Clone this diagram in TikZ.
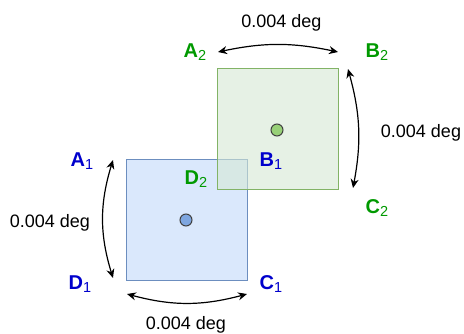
\documentclass[tikz,border=0pt]{standalone}
\usepackage{fontspec}
\setmainfont{Liberation Sans}
\usetikzlibrary{arrows.meta}

\definecolor{bluefill}{HTML}{DAE8FC}
\definecolor{blueline}{HTML}{6C8EBF}
\definecolor{bluedot}{HTML}{7EA6E0}
\definecolor{greenfill}{HTML}{D5E8D4}
\definecolor{greenline}{HTML}{82B366}
\definecolor{greendot}{HTML}{97D077}
\definecolor{labelblue}{HTML}{0000CC}
\definecolor{labelgreen}{HTML}{009900}

% corner subscript, set as the picture does it
\newcommand{\cornersub}[1]{\raisebox{-3pt}{\mdseries\fontsize{14.5}{15}\selectfont #1}}

\begin{document}
\begin{tikzpicture}[
    x=1pt, y=-1pt,
    every node/.style={font=\fontsize{18}{20}\selectfont, inner sep=0pt},
    square/.style={draw, minimum size=121pt, line width=1pt},
    dot/.style={circle, draw=black!75, minimum size=12pt, line width=1pt},
    corner/.style={font=\fontsize{20}{22}\selectfont\bfseries, anchor=base},
    deg/.style={anchor=base},
    span/.style={{Stealth[length=9pt,width=8pt]}-{Stealth[length=9pt,width=8pt]}, line width=1.2pt}
]
\useasboundingbox (0,0) rectangle (464,333);

% squares and centres
\node[square, fill=bluefill, draw=blueline] (sqone) at (186.5,219.5) {};
\node[square, fill=greenfill, fill opacity=0.6, draw=greenline] (sqtwo) at (277.5,129) {};
\node[dot, fill=bluedot] (cone) at (186,220) {};
\node[dot, fill=greendot] (ctwo) at (277,130) {};

% corner labels
\node[corner, text=labelgreen] (atwo) at (195,57) {A\cornersub{2}};
\node[corner, text=labelgreen] (btwo) at (377,57) {B\cornersub{2}};
\node[corner, text=labelgreen] (ctwol) at (377,213) {C\cornersub{2}};
\node[corner, text=labelgreen] (dtwo) at (196,184) {D\cornersub{2}};
\node[corner, text=labelblue] (aone) at (82,166) {A\cornersub{1}};
\node[corner, text=labelblue] (bone) at (271,166) {B\cornersub{1}};
\node[corner, text=labelblue] (conel) at (271,289) {C\cornersub{1}};
\node[corner, text=labelblue] (done) at (80,289) {D\cornersub{1}};

% angle labels
\node[deg] (degtop) at (281.5,27) {0.004 deg};
\node[deg] (degright) at (421,137) {0.004 deg};
\node[deg] (degleft) at (50,227) {0.004 deg};
\node[deg] (degbottom) at (186,329) {0.004 deg};

% arrow ends
\coordinate (topl) at (218,52);
\coordinate (topr) at (338,52);
\coordinate (rightt) at (348,69);
\coordinate (rightb) at (353,188);
\coordinate (leftt) at (113,160);
\coordinate (leftb) at (113,278);
\coordinate (botl) at (127,294);
\coordinate (botr) at (247,294);

\draw[span] (topl) to[bend left=12] (topr);
\draw[span] (rightt) to[bend left=13] (rightb);
\draw[span] (leftt) to[bend right=17] (leftb);
\draw[span] (botl) to[bend right=15] (botr);
\end{tikzpicture}
\end{document}
